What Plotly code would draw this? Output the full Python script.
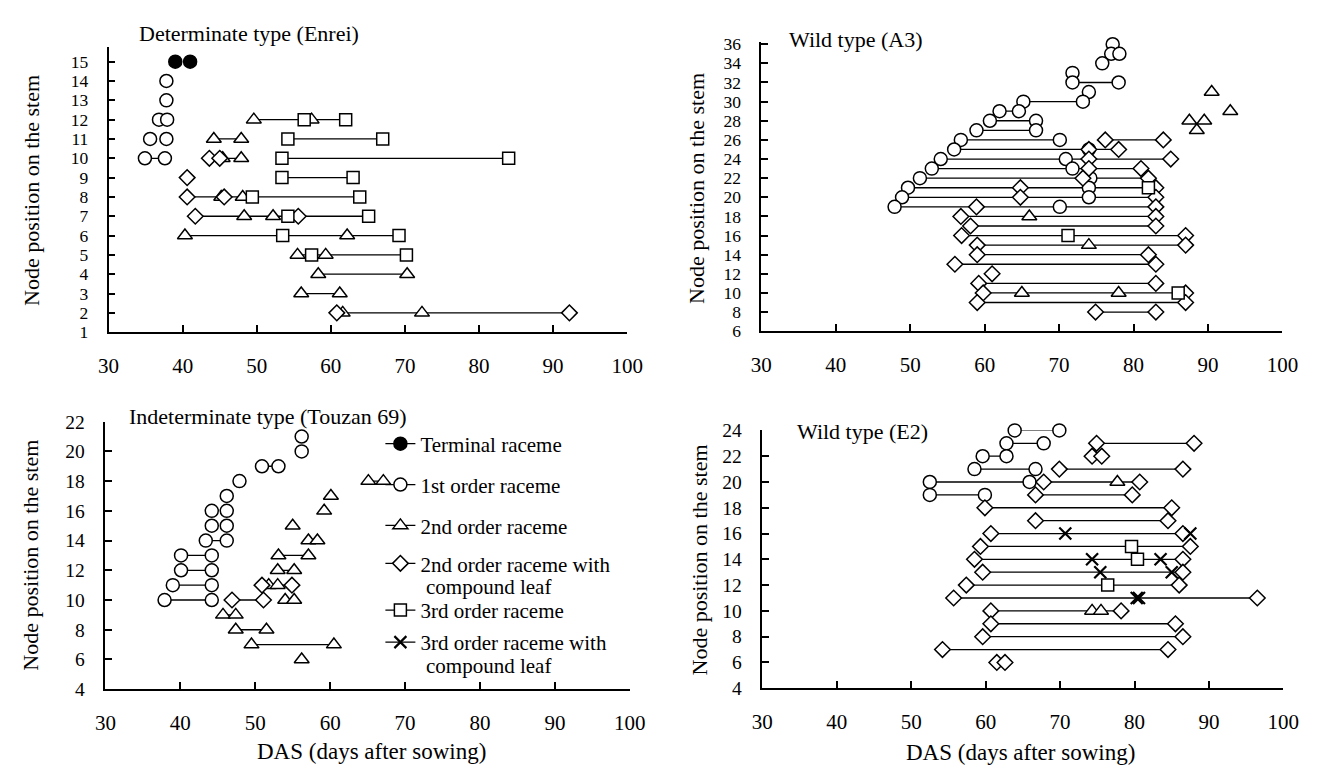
import plotly.graph_objects as go

# page is 1317x778; the html body has an 8px margin, so the figure is 8px smaller
PAGE_W, PAGE_H = 1317, 778
OFF = 8
W, H = PAGE_W - OFF, PAGE_H - OFF
FONT = "Liberation Serif"

# ---------------- Determinate type (Enrei) ----------------
enrei_term_node = [15, 15]
enrei_term_das = [39.0, 41.0]
enrei_c1_node = [14, 13, 12, 12, 11, 11, 10, 10]
enrei_c1_das = [37.8, 37.8, 36.8, 37.9, 35.6, 37.8, 34.9, 37.6]
enrei_tri_node = [12, 12, 11, 11, 10, 10, 8, 8, 7, 7, 6, 6, 5, 5, 4, 4, 3, 3, 2, 2]
enrei_tri_das = [49.6, 57.4, 44.2, 47.9, 45.4, 47.9, 45.2, 48.1, 48.3, 52.2,
                 40.3, 62.2, 55.5, 59.3, 58.3, 70.3, 56.0, 61.2, 61.6, 72.3]
enrei_dia_node = [10, 10, 9, 8, 8, 7, 7, 2, 2]
enrei_dia_das = [43.6, 45.0, 40.6, 40.6, 45.6, 41.7, 55.6, 60.8, 92.2]
enrei_sq_node = [12, 12, 11, 11, 10, 10, 9, 9, 8, 8, 7, 7, 6, 6, 5, 5]
enrei_sq_das = [56.4, 62.0, 54.2, 67.0, 53.4, 84.0, 53.4, 63.0, 49.4, 63.9,
                54.2, 65.1, 53.5, 69.2, 57.4, 70.2]
enrei_seg_node = [10, 12, 11, 11, 10, 10, 9, 8, 7, 6, 5, 4, 3, 2]
enrei_seg_start = [34.9, 49.6, 44.2, 54.2, 45.0, 53.4, 53.4, 40.6, 41.7, 40.3, 55.5, 58.3, 56.0, 60.8]
enrei_seg_end = [37.6, 62.0, 47.9, 67.0, 47.9, 84.0, 63.0, 63.9, 65.1, 69.2, 70.2, 70.3, 61.2, 92.2]

# ---------------- Wild type (A3) ----------------
a3_c1_node = [36, 35, 35, 34, 33, 32, 32, 31, 30, 30, 29, 29, 28, 28, 27, 27, 26, 26,
              25, 25, 24, 24, 23, 23, 22, 22, 21, 21, 20, 20, 19, 19]
a3_c1_das = [77.2, 77.0, 78.1, 75.8, 71.8, 71.8, 78.0, 74.0, 65.2, 73.2, 62.0, 64.6,
             60.7, 66.9, 58.9, 66.9, 56.8, 70.1, 55.9, 74.0, 54.1, 70.9, 52.9, 71.8,
             51.3, 74.2, 49.7, 74.0, 48.9, 74.0, 47.9, 70.1]
a3_tri_node = [31, 29, 28, 28, 27, 18, 15, 10, 10]
a3_tri_das = [90.5, 93.0, 87.5, 89.5, 88.5, 66.0, 74.0, 65.0, 78.0]
a3_dia_node = [26, 26, 25, 25, 24, 24, 23, 23, 22, 22, 21, 21, 20, 20, 19, 19, 18, 18,
               17, 17, 16, 16, 15, 15, 14, 14, 13, 13, 12, 11, 11, 10, 10, 9, 9, 8, 8]
a3_dia_das = [76.2, 84.0, 74.0, 78.0, 74.0, 85.0, 74.0, 81.0, 73.2, 82.0, 64.8, 83.0,
              64.8, 83.0, 58.9, 83.0, 56.8, 83.0, 58.1, 83.0, 56.9, 87.0, 59.0, 87.0,
              59.0, 82.0, 56.0, 83.0, 61.0, 59.2, 83.0, 59.8, 87.0, 59.0, 87.0, 74.9, 83.0]
a3_sq_node = [21, 16, 10]
a3_sq_das = [82.0, 71.2, 86.0]
a3_seg_node = [32, 30, 29, 28, 27, 26, 26, 25, 24, 23, 22, 21, 20, 19, 18, 17, 16, 15,
               14, 13, 11, 10, 9, 8]
a3_seg_start = [71.8, 65.2, 62.0, 60.7, 58.9, 56.8, 76.2, 55.9, 54.1, 52.9, 51.3, 49.7,
                48.9, 47.9, 56.8, 58.1, 56.9, 59.0, 59.0, 56.0, 59.2, 59.8, 59.0, 74.9]
a3_seg_end = [78.0, 73.2, 64.6, 66.9, 66.9, 70.1, 84.0, 78.0, 85.0, 81.0, 82.0, 83.0,
              83.0, 83.0, 83.0, 83.0, 87.0, 87.0, 82.0, 83.0, 83.0, 87.0, 87.0, 83.0]

# ---------------- Indeterminate type (Touzan 69) ----------------
tz_c1_node = [21, 20, 19, 19, 18, 17, 16, 16, 15, 15, 14, 14, 13, 13, 12, 12, 11, 11, 10, 10]
tz_c1_das = [56.2, 56.2, 50.9, 53.1, 47.9, 46.2, 44.2, 46.2, 44.2, 46.2, 43.4, 46.2,
             40.1, 44.2, 40.1, 44.2, 39.0, 44.2, 37.9, 44.2]
tz_tri_node = [18, 18, 17, 16, 15, 14, 14, 13, 13, 12, 12, 11, 11, 10, 10, 9, 9, 8, 8, 7, 7, 6]
tz_tri_das = [65.1, 67.1, 60.1, 59.2, 55.0, 57.1, 58.3, 53.1, 57.1, 53.0, 55.2, 51.8, 53.0,
              54.0, 55.2, 45.7, 47.4, 47.4, 51.5, 49.5, 60.5, 56.2]
tz_dia_node = [11, 11, 10, 10]
tz_dia_das = [50.9, 54.9, 46.9, 51.1]
tz_seg_node = [19, 18, 14, 13, 13, 12, 12, 11, 11, 10, 10, 9, 8, 7]
tz_seg_start = [50.9, 65.1, 43.4, 40.1, 53.1, 40.1, 53.0, 39.0, 50.9, 37.9, 46.9, 45.7, 47.4, 49.5]
tz_seg_end = [53.1, 67.1, 46.2, 44.2, 57.1, 44.2, 55.2, 44.2, 54.9, 44.2, 51.1, 47.4, 51.5, 60.5]

# ---------------- Wild type (E2) ----------------
e2_c1_node = [24, 24, 23, 23, 22, 22, 21, 21, 20, 20, 19, 19]
e2_c1_das = [63.9, 69.9, 62.8, 67.8, 59.6, 62.8, 58.5, 66.7, 52.5, 65.9, 52.5, 59.9]
e2_tri_node = [20, 10, 10]
e2_tri_das = [77.7, 74.3, 75.5]
e2_dia_node = [23, 23, 22, 22, 21, 21, 20, 20, 19, 19, 18, 18, 17, 17, 16, 16, 15, 15,
               14, 14, 13, 13, 12, 12, 11, 11, 10, 10, 9, 9, 8, 8, 7, 7, 6, 6]
e2_dia_das = [74.9, 88.0, 74.3, 75.6, 69.9, 86.5, 67.8, 80.7, 66.7, 79.7, 59.9, 85.0,
              66.7, 84.5, 60.7, 86.5, 59.3, 87.5, 58.5, 86.5, 59.6, 86.5, 57.4, 86.0,
              55.7, 96.5, 60.7, 78.2, 60.7, 85.5, 59.6, 86.5, 54.2, 84.5, 61.5, 62.6]
e2_sq_node = [15, 14, 12]
e2_sq_das = [79.6, 80.4, 76.4]
e2_x_node = [16, 16, 14, 14, 13, 13, 11, 11]
e2_x_das = [70.7, 87.5, 74.3, 83.5, 75.4, 85.0, 80.3, 80.6]
e2_seg_node = [24, 23, 23, 22, 21, 21, 20, 19, 19, 18, 17, 16, 15, 14, 13, 12, 11, 10, 9, 8, 7]
e2_seg_start = [63.9, 62.8, 74.9, 59.6, 58.5, 69.9, 52.5, 52.5, 66.7, 59.9, 66.7, 60.7, 59.3,
                58.5, 59.6, 57.4, 55.7, 60.7, 60.7, 59.6, 54.2]
e2_seg_end = [69.9, 67.8, 88.0, 62.8, 66.7, 86.5, 80.7, 59.9, 79.7, 85.0, 84.5, 87.5, 87.5,
              86.5, 86.5, 86.0, 96.5, 78.2, 85.5, 86.5, 84.5]

legend_names = ["Terminal raceme", "1st order raceme", "2nd order raceme",
                "2nd order raceme with", "3rd order raceme", "3rd order raceme with"]

# ---------------- styles ----------------
STY = {
    "term": dict(symbol="circle", size=13, color="black", line=dict(color="black", width=1.5)),
    "c1": dict(symbol="circle", size=13, color="white", line=dict(color="black", width=1.5)),
    "tri": dict(symbol="triangle-up", size=13, color="white", line=dict(color="black", width=1.5)),
    "dia": dict(symbol="diamond", size=12, color="white", line=dict(color="black", width=1.5)),
    "sq": dict(symbol="square", size=12, color="white", line=dict(color="black", width=1.5)),
    "x": dict(symbol="x-thin", size=12, color="black", line=dict(color="black", width=2.2)),
}

fig = go.Figure()


def add_panel(ax, seg_node, seg_start, seg_end, series):
    xs, ys = [], []
    for n, a, b in zip(seg_node, seg_start, seg_end):
        xs += [a, b, None]
        ys += [n, n, None]
    fig.add_trace(go.Scatter(x=xs, y=ys, mode="lines", line=dict(color="black", width=1.3),
                             xaxis="x" + ax, yaxis="y" + ax, showlegend=False,
                             hoverinfo="skip", cliponaxis=False))
    for key, das, node in series:
        fig.add_trace(go.Scatter(x=das, y=node, mode="markers", marker=STY[key],
                                 xaxis="x" + ax, yaxis="y" + ax, showlegend=False,
                                 cliponaxis=False))


add_panel("", enrei_seg_node, enrei_seg_start, enrei_seg_end,
          [("c1", enrei_c1_das, enrei_c1_node), ("tri", enrei_tri_das, enrei_tri_node),
           ("dia", enrei_dia_das, enrei_dia_node), ("sq", enrei_sq_das, enrei_sq_node),
           ("term", enrei_term_das, enrei_term_node)])
add_panel("2", a3_seg_node, a3_seg_start, a3_seg_end,
          [("c1", a3_c1_das, a3_c1_node), ("tri", a3_tri_das, a3_tri_node),
           ("dia", a3_dia_das, a3_dia_node), ("sq", a3_sq_das, a3_sq_node)])
add_panel("3", tz_seg_node, tz_seg_start, tz_seg_end,
          [("c1", tz_c1_das, tz_c1_node), ("tri", tz_tri_das, tz_tri_node),
           ("dia", tz_dia_das, tz_dia_node)])
add_panel("4", e2_seg_node, e2_seg_start, e2_seg_end,
          [("c1", e2_c1_das, e2_c1_node), ("tri", e2_tri_das, e2_tri_node),
           ("dia", e2_dia_das, e2_dia_node), ("sq", e2_sq_das, e2_sq_node),
           ("x", e2_x_das, e2_x_node)])


def px_x(p):
    return (p - OFF) / W


def px_y(p):
    return 1 - (p - OFF) / H


# legend-only entries, each in its own legend box (page pixel centres)
legend_keys = ["term", "c1", "tri", "dia", "sq", "x"]
legend_y = [446, 488, 530, 569, 617, 650]
LEG_FONT = 21
for i, (name, key) in enumerate(zip(legend_names, legend_keys)):
    lg = "legend" if i == 0 else "legend%d" % (i + 1)
    fig.add_trace(go.Scatter(x=[None], y=[None], mode="lines+markers", name=name,
                             marker=STY[key], line=dict(color="black", width=1.3),
                             xaxis="x3", yaxis="y3", legend=lg, showlegend=True))
    fig.layout[lg] = dict(x=px_x(377), y=px_y(legend_y[i]), xanchor="left", yanchor="middle",
                          bgcolor="rgba(0,0,0,0)", borderwidth=0,
                          font=dict(family=FONT, size=LEG_FONT, color="black"))

axis_common = dict(showline=True, linecolor="black", linewidth=1.6, ticks="inside",
                   ticklen=7, tickwidth=1.5, tickcolor="black", showgrid=False,
                   zeroline=False)
x_common = dict(axis_common, range=[30, 100], dtick=10, tick0=30, ticklabelstandoff=14,
                tickfont=dict(family=FONT, size=21, color="black"))
y_top = dict(axis_common, ticklabelstandoff=15,
             tickfont=dict(family=FONT, size=17.5, color="black"))
y_bot = dict(axis_common, ticklabelstandoff=15,
             tickfont=dict(family=FONT, size=19.5, color="black"))

fig.update_layout(
    width=W, height=H, plot_bgcolor="white", paper_bgcolor="white",
    margin=dict(l=0, r=0, t=0, b=0),
    xaxis=dict(x_common, domain=[px_x(99.5), px_x(629)], anchor="y"),
    yaxis=dict(y_top, domain=[px_y(331), px_y(38)], anchor="x", range=[1, 15.75],
               tickvals=list(range(1, 16))),
    xaxis2=dict(x_common, domain=[px_x(766), px_x(1298)], anchor="y2"),
    yaxis2=dict(y_top, domain=[px_y(330), px_y(33)], anchor="x2", range=[6, 36.2],
                tickvals=list(range(6, 37, 2))),
    xaxis3=dict(x_common, domain=[px_x(96.2), px_x(631.7)], anchor="y3"),
    yaxis3=dict(y_bot, domain=[px_y(698), px_y(423)], anchor="x3", range=[4, 22],
                tickvals=list(range(4, 23, 2))),
    xaxis4=dict(x_common, domain=[px_x(767), px_x(1299)], anchor="y4"),
    yaxis4=dict(y_bot, domain=[px_y(697), px_y(432)], anchor="x4", range=[4, 24],
                tickvals=list(range(4, 25, 2))),
)

ann = []


def text(t, x, y, xanchor="left", angle=0, size=22):
    ann.append(dict(text=t, x=px_x(x), y=px_y(y), xref="paper", yref="paper",
                    xanchor=xanchor, yanchor="middle", showarrow=False, textangle=angle,
                    font=dict(family=FONT, size=size, color="black")))


text("Determinate type (Enrei)", 128, 24)
text("Wild type (A3)", 792, 30)
text("Indeterminate type (Touzan 69)", 118, 418)
text("Wild type (E2)", 800, 433)
text("Node position on the stem", 20, 185, "center", -90)
text("Node position on the stem", 699, 183, "center", -90)
text("Node position on the stem", 20, 560, "center", -90)
text("Node position on the stem", 703, 565, "center", -90)
text("DAS (days after sowing)", 368, 762, "center", 0, 23)
text("DAS (days after sowing)", 1031, 763, "center", 0, 23)
text("compound leaf", 422, 593, size=LEG_FONT)
text("compound leaf", 422, 674, size=LEG_FONT)
fig.update_layout(annotations=ann)

fig.write_html("out.html")
